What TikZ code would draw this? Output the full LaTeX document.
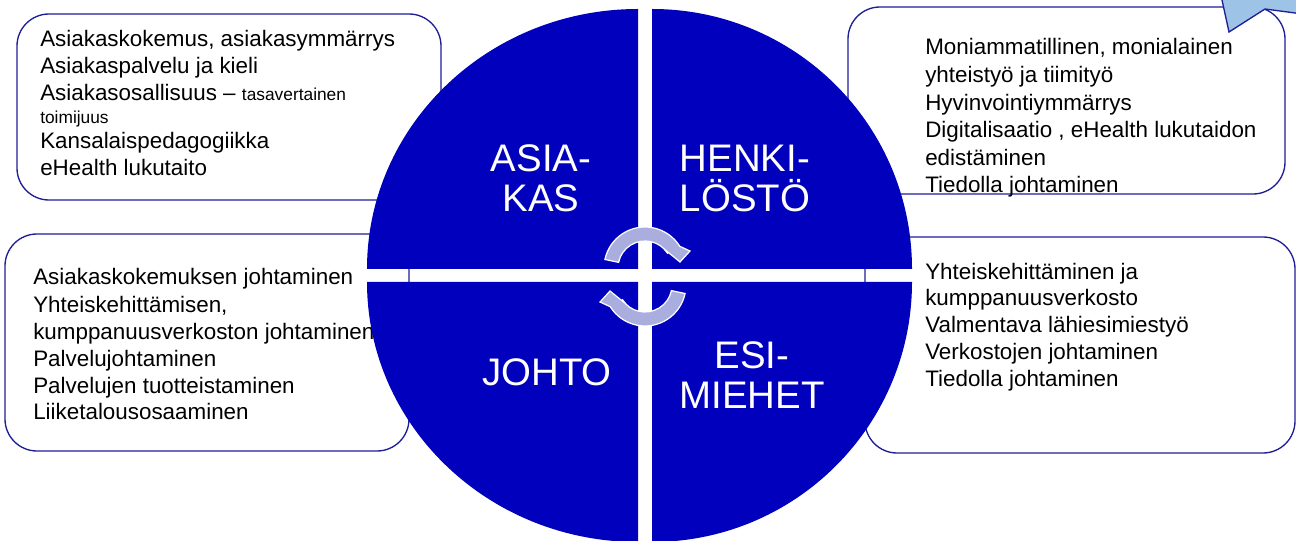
\documentclass[tikz,border=0pt]{standalone}
\usepackage{fontspec}
\setmainfont{Liberation Sans}
\definecolor{qblue}{RGB}{0,0,189}
\definecolor{bnavy}{RGB}{30,30,150}
\definecolor{arrowc}{RGB}{170,174,222}
\definecolor{starc}{RGB}{157,195,230}
\tikzset{
  box/.style={draw=bnavy, line width=1pt, fill=white, rounded corners=24pt},
  txt/.style={inner sep=0pt, anchor=base west, font=\fontsize{16.8}{20}\selectfont, text=black},
  smalltxt/.style={inner sep=0pt, anchor=base west, font=\fontsize{13}{15}\selectfont, text=black},
  quad/.style={fill=qblue},
  lbl/.style={inner sep=0pt, text=white, align=center, font=\fontsize{28.8}{30}\selectfont},
  carrow/.style={fill=arrowc, draw=white, line width=0.9pt, line join=miter},
  starshape/.style={fill=starc, draw=bnavy, line width=1pt}
}
\begin{document}
\begin{tikzpicture}[x=0.75pt,y=-0.75pt]
\useasboundingbox (0,0) rectangle (1296,541);
% boxes
\draw[box] (17,14) rectangle (441,200);
\draw[box] (848,7) rectangle (1285,194);
\draw[box] (5,234) rectangle (409,451);
\draw[box] (865,237) rectangle (1295,453);
% box 1 text
\node[txt] (a1) at (40,47) {Asiakaskokemus, asiakasymmärrys};
\node[txt] (a2) at (40,74) {Asiakaspalvelu ja kieli};
\node[txt] (a3) at (40,100.7) {Asiakasosallisuus – {\fontsize{13}{15}\selectfont tasavertainen}};
\node[smalltxt] (a4) at (40,123.3) {toimijuus};
\node[txt] (a5) at (40,148.3) {Kansalaispedagogiikka};
\node[txt] (a6) at (40,175.7) {eHealth lukutaito};
% box 2 text
\node[txt] (h1) at (925,55) {Moniammatillinen, monialainen};
\node[txt] (h2) at (925,83) {yhteistyö ja tiimityö};
\node[txt] (h3) at (925,111) {Hyvinvointiymmärrys};
\node[txt] (h4) at (925,138) {Digitalisaatio , eHealth lukutaidon};
\node[txt] (h5) at (925,166) {edistäminen};
\node[txt] (h6) at (925,193) {Tiedolla johtaminen};
% box 3 text
\node[txt] (j1) at (33,285) {Asiakaskokemuksen johtaminen};
\node[txt] (j2) at (33,312.7) {Yhteiskehittämisen,};
\node[txt] (j3) at (33,340) {kumppanuusverkoston johtaminen};
\node[txt] (j4) at (33,366.7) {Palvelujohtaminen};
\node[txt] (j5) at (33,393.3) {Palvelujen tuotteistaminen};
\node[txt] (j6) at (33,420) {Liiketalousosaaminen};
% box 4 text
\node[txt] (e1) at (925,279.3) {Yhteiskehittäminen ja};
\node[txt] (e2) at (925,306) {kumppanuusverkosto};
\node[txt] (e3) at (925,332.7) {Valmentava lähiesimiestyö};
\node[txt] (e4) at (925,360) {Verkostojen johtaminen};
\node[txt] (e5) at (925,386.7) {Tiedolla johtaminen};
% partial light blue shape top right
\draw[starshape] (1219.8,-10) -- (1229,32) -- (1265,9) -- (1310,15) -- (1310,-10) -- cycle;
% quadrants
\fill[quad] (638,269) -- (367,269) arc[start angle=180,end angle=270,x radius=271,y radius=260] -- cycle;
\fill[quad] (652,269) -- (652,9) arc[start angle=270,end angle=360,radius=260] -- cycle;
\fill[quad] (652,282) -- (912,282) arc[start angle=0,end angle=90,radius=260] -- cycle;
\fill[quad] (638,282) -- (638,542) arc[start angle=90,end angle=180,x radius=271,y radius=260] -- cycle;
% labels
\node[lbl] (asiakas) at (541,178) {ASIA-\\KAS};
\node[lbl] (henkilosto) at (745,178) {HENKI-\\LÖSTÖ};
\node[lbl] (johto) at (547,372) {JOHTO};
\node[lbl] (esimiehet) at (752,375) {ESI-\\MIEHET};
% circular arrows
\filldraw[carrow] ([shift={(645,268)}]192:41) arc[start angle=192,end angle=328,radius=41]
  -- ([shift={(645,268)}]45,-17) -- ([shift={(645,268)}]35,-6) -- ([shift={(645,268)}]19,-19)
  -- ([shift={(645,268)}]328:27) arc[start angle=328,end angle=192,radius=27] -- cycle;
\filldraw[carrow] ([shift={(645,285)}]12:41) arc[start angle=12,end angle=148,radius=41]
  -- ([shift={(645,285)}]-45,17) -- ([shift={(645,285)}]-35,6) -- ([shift={(645,285)}]-19,19)
  -- ([shift={(645,285)}]148:27) arc[start angle=148,end angle=12,radius=27] -- cycle;
\end{tikzpicture}
\end{document}
